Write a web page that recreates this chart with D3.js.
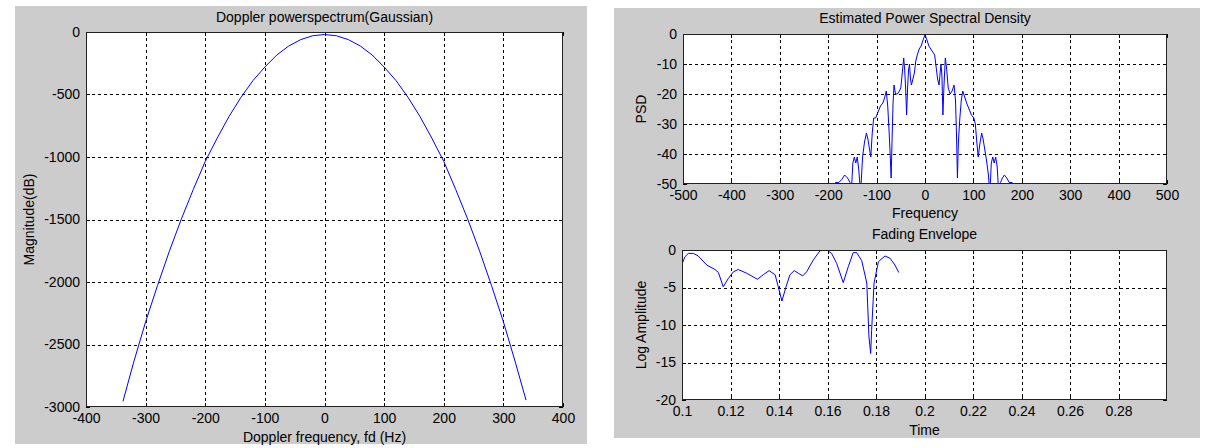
<!DOCTYPE html>
<html><head><meta charset="utf-8">
<script src="https://cdn.jsdelivr.net/npm/d3@7"></script>
<style>
body{margin:0;background:#fff}
svg{display:block}
text{font-family:Arial,"Liberation Sans",sans-serif;fill:#000}
</style>
</head><body>
<svg id="c" width="1209" height="448"></svg>
<script>
// ---------- data ----------
const gaussFreq=[-338,-320,-300,-280,-260,-240,-220,-200,-180,-160,-140,-120,-100,-80,-60,-40,-20,0,20,40,60,80,100,120,140,160,180,200,220,240,260,280,300,320,338];
const gaussMag=[-2955,-2641,-2318,-2027,-1751,-1495,-1259,-1035,-849,-675,-522,-389,-280,-184,-112,-61,-30,-20,-30,-61,-112,-184,-280,-389,-522,-675,-849,-1035,-1259,-1495,-1751,-2027,-2318,-2641,-2945];
const gaussXTicks=[-400,-300,-200,-100,0,100,200,300,400];
const gaussYTicks=[-3000,-2500,-2000,-1500,-1000,-500,0];

const psdFreq=[-190,-185,-178,-172,-166,-160,-155,-152,-149,-146,-143,-140,-137,-133,-129,-125,-121,-118,-115,-112,-109,-106,-102,-97,-92,-87,-83,-80,-77,-74,-72,-70,-68,-66,-64,-61,-57,-53,-50,-47,-44,-42,-40,-38,-36,-34,-32,-30,-28,-25,-22,-19,-16,-12,-8,-4,0,4,8,12,16,20,23,26,29,33,35,37,39,42,45,48,52,56,60,63,65,67,69,72,75,78,82,86,91,96,101,104,107,110,113,117,120,123,127,131,134,137,140,143,146,149,152,156,160,164,169,174,180,186];
const psdValue=[-52,-49.5,-49.5,-48.5,-47,-48,-49.5,-52,-43,-41,-43,-41,-45,-53,-41,-36,-33,-35,-38,-41,-33,-28,-28,-26,-24,-23,-21,-19,-24,-33,-40,-48,-35,-23,-17,-20,-20,-19,-18,-13,-8,-12,-18,-27,-18,-12,-10,-15,-17,-15,-13,-9,-7,-5,-4,-2,-0.2,-2,-4,-5,-6,-7,-11,-15,-17,-10,-14,-27,-18,-8,-12,-18,-20,-19,-17,-22,-33,-48,-36,-28,-22,-19,-21,-23,-25,-27,-28,-30,-36,-41,-37,-33,-35,-38,-42,-47,-53,-43,-41,-43,-41,-44,-52,-49.5,-48,-47,-48,-49.5,-49.5,-52];
const psdXTicks=[-500,-400,-300,-200,-100,0,100,200,300,400,500];
const psdYTicks=[-50,-40,-30,-20,-10,0];

const envTime=[0.1,0.1012,0.1026,0.1047,0.1067,0.1102,0.1136,0.115,0.117,0.1191,0.1212,0.1232,0.1267,0.1311,0.1335,0.1359,0.1384,0.1397,0.1412,0.1429,0.1445,0.1463,0.148,0.1498,0.1514,0.1542,0.1569,0.1597,0.1617,0.1638,0.1665,0.1686,0.1706,0.172,0.1741,0.1762,0.1771,0.1778,0.1782,0.1792,0.181,0.1837,0.1858,0.1878,0.1894];
const envValue=[-1.9,-0.9,-0.45,-0.45,-0.8,-2.0,-2.6,-3.0,-4.9,-3.8,-2.9,-2.6,-3.1,-3.9,-3.3,-2.75,-3.3,-4.9,-6.8,-4.9,-3.3,-2.75,-3.1,-3.45,-2.9,-1.3,-0.1,0,-0.45,-1.8,-4.35,-2.2,-0.35,-0.35,-1.4,-4.4,-11.6,-13.8,-10.7,-4.4,-1.55,-0.8,-1.1,-2.0,-3.0];
const envXTicks=[0.1,0.12,0.14,0.16,0.18,0.2,0.22,0.24,0.26,0.28];
const envYTicks=[-20,-15,-10,-5,0];

// ---------- drawing ----------
const svg=d3.select("#c");
svg.append("rect").attr("width",1209).attr("height",448).attr("fill","#fff");
svg.append("rect").attr("x",15).attr("y",6).attr("width",572).attr("height",438).attr("fill","#cccccc");
svg.append("rect").attr("x",614).attr("y",8).attr("width",586).attr("height",430).attr("fill","#cccccc");

let clipId=0;
function panel(o){
  const x=d3.scaleLinear().domain(o.xDomain).range([o.left,o.right]);
  const y=d3.scaleLinear().domain(o.yDomain).range([o.bottom,o.top]);
  const g=svg.append("g");
  g.append("rect").attr("x",o.left).attr("y",o.top).attr("width",o.right-o.left).attr("height",o.bottom-o.top).attr("fill","#fff");
  // grid
  const grid=g.append("g").attr("stroke","#000").attr("stroke-width",1).attr("stroke-dasharray","3,3");
  grid.selectAll(".gx").data(o.xTicks.filter(v=>v>o.xDomain[0]&&v<o.xDomain[1])).join("line")
    .attr("x1",d=>Math.round(x(d))+0.5).attr("x2",d=>Math.round(x(d))+0.5).attr("y1",o.top).attr("y2",o.bottom);
  grid.selectAll(".gy").data(o.yTicks.filter(v=>v>o.yDomain[0]&&v<o.yDomain[1])).join("line")
    .attr("y1",d=>Math.round(y(d))+0.5).attr("y2",d=>Math.round(y(d))+0.5).attr("x1",o.left).attr("x2",o.right);
  // data line
  const id="clip"+(clipId++);
  g.append("clipPath").attr("id",id).append("rect").attr("x",o.left).attr("y",o.top).attr("width",o.right-o.left).attr("height",o.bottom-o.top);
  const pts=o.xs.map((v,i)=>[v,o.ys[i]]);
  g.append("path").attr("clip-path",`url(#${id})`).attr("fill","none").attr("stroke","#0000ff").attr("stroke-width",1)
    .attr("d",d3.line().x(d=>x(d[0])).y(d=>y(d[1]))(pts));
  // axes
  const fmt=o.fmt||(d=>String(d));
  const ax=g.append("g").attr("transform",`translate(0,${o.bottom})`)
    .call(d3.axisBottom(x).tickValues(o.xTicks).tickFormat(fmt).tickSize(0).tickPadding(o.xPad||6));
  const ay=g.append("g").attr("transform",`translate(${o.left},0)`)
    .call(d3.axisLeft(y).tickValues(o.yTicks).tickFormat(fmt).tickSize(0).tickPadding(6));
  [ax,ay].forEach(a=>{a.select(".domain").remove();a.selectAll("text").attr("font-size",14).attr("font-family",null).attr("fill","#000");a.attr("font-family",null).attr("font-size",null);});
  // inner ticks
  const tk=g.append("g").attr("stroke","#000").attr("stroke-width",1);
  o.xTicks.forEach(v=>{const xx=Math.round(x(v))+0.5;
    tk.append("line").attr("x1",xx).attr("x2",xx).attr("y1",o.bottom).attr("y2",o.bottom-4);
    tk.append("line").attr("x1",xx).attr("x2",xx).attr("y1",o.top).attr("y2",o.top+4);});
  o.yTicks.forEach(v=>{const yy=Math.round(y(v))+0.5;
    tk.append("line").attr("y1",yy).attr("y2",yy).attr("x1",o.left).attr("x2",o.left+4);
    tk.append("line").attr("y1",yy).attr("y2",yy).attr("x1",o.right).attr("x2",o.right-4);});
  // frame
  g.append("rect").attr("x",o.left+0.5).attr("y",o.top+0.5).attr("width",o.right-o.left-1).attr("height",o.bottom-o.top-1)
    .attr("fill","none").attr("stroke","#222").attr("stroke-width",1);
  // labels
  const cx=(o.left+o.right)/2, cy=(o.top+o.bottom)/2;
  g.append("text").attr("x",cx).attr("y",o.titleY).attr("text-anchor","middle").attr("font-size",14).text(o.title);
  g.append("text").attr("x",cx).attr("y",o.xlabelY).attr("text-anchor","middle").attr("font-size",14).text(o.xlabel);
  g.append("text").attr("transform",`translate(${o.ylabelX},${cy}) rotate(-90)`).attr("text-anchor","middle").attr("font-size",14).text(o.ylabel);
}

panel({left:86,right:563,top:32,bottom:407,xDomain:[-400,400],yDomain:[-3000,0],
  xTicks:gaussXTicks,yTicks:gaussYTicks,xs:gaussFreq,ys:gaussMag,
  title:"Doppler powerspectrum(Gaussian)",xlabel:"Doppler frequency, fd (Hz)",ylabel:"Magnitude(dB)",
  titleY:22,xlabelY:442,ylabelX:34});

panel({left:683,right:1167,top:34,bottom:184,xDomain:[-500,500],yDomain:[-50,0],
  xTicks:psdXTicks,yTicks:psdYTicks,xs:psdFreq,ys:psdValue,
  title:"Estimated Power Spectral Density",xlabel:"Frequency",ylabel:"PSD",
  titleY:23,xlabelY:218,ylabelX:646});

panel({left:682,right:1167,top:250,bottom:400,xDomain:[0.1,0.3],yDomain:[-20,0],
  xTicks:envXTicks,yTicks:envYTicks,xs:envTime,ys:envValue,fmt:d=>String(+d.toFixed(2)),
  title:"Fading Envelope",xlabel:"Time",ylabel:"Log Amplitude",
  titleY:239,xlabelY:435,ylabelX:646});
</script>
</body></html>
